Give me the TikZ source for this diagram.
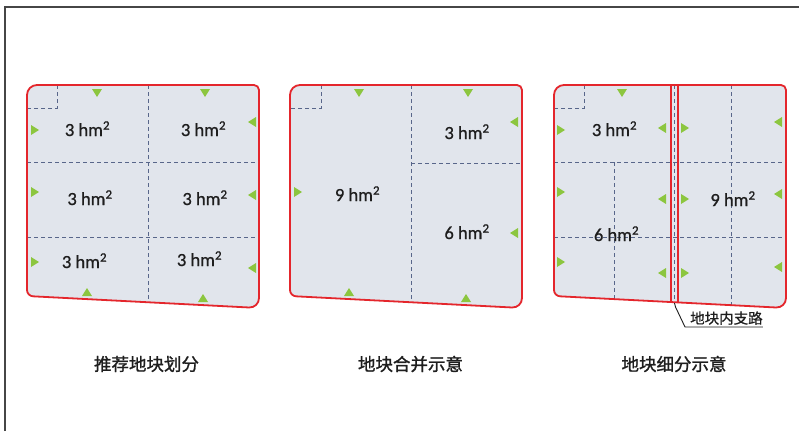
\documentclass[tikz,border=0pt]{standalone}
\usepackage{fontspec}
\newfontfamily\cjk[FakeBold=1.2]{Noto Sans CJK SC}
\newfontfamily\cjklight[FakeBold=0.6]{Noto Sans CJK SC}
\newfontfamily\numfont[FakeBold=0.8]{Carlito}
\definecolor{plotfill}{RGB}{225,229,236}
\definecolor{plotred}{RGB}{228,38,44}
\definecolor{dashblue}{RGB}{88,102,138}
\definecolor{trigreen}{RGB}{140,198,63}
\definecolor{framegray}{RGB}{70,70,70}
\definecolor{textdark}{RGB}{30,30,30}
\tikzset{
 border/.style={draw=plotred,line width=1.8pt},
 roadline/.style={draw=plotred,line width=1.6pt},
 gridline/.style={draw=dashblue,line width=1pt,dash pattern=on 4pt off 3pt},
 tri/.style={fill=trigreen},
 area/.style={font=\numfont\fontsize{18.5}{20}\selectfont,text=textdark,inner sep=0pt,anchor=base},
 titletext/.style={font=\cjk\fontsize{17.5}{20}\selectfont,text=textdark,inner sep=0pt},
 callouttext/.style={font=\cjklight\fontsize{14.5}{16}\selectfont,text=textdark,inner sep=0pt},
 calloutline/.style={draw=textdark,line width=0.9pt},
}
\newcommand\plotoutline{(0,200) [rounded corners=10pt] -- (0,85) [rounded corners=5pt] -- (232,85) [rounded corners=10pt] -- (232,308) [rounded corners=6pt] -- (0,296) -- cycle}
\newcommand\tdn[2]{\fill[tri] ({#1-5},{#2-4}) -- ({#1+5},{#2-4}) -- (#1,{#2+4}) -- cycle;}
\newcommand\tup[2]{\fill[tri] ({#1-5},{#2+4}) -- ({#1+5},{#2+4}) -- (#1,{#2-4}) -- cycle;}
\newcommand\trt[2]{\fill[tri] ({#1-4},{#2-5}) -- ({#1-4},{#2+5}) -- ({#1+4},#2) -- cycle;}
\newcommand\tlt[2]{\fill[tri] ({#1+4},{#2-5}) -- ({#1+4},{#2+5}) -- ({#1-4},#2) -- cycle;}
\begin{document}
\begin{tikzpicture}[x=1pt,y=-1pt]
\useasboundingbox (0,0) rectangle (799,431);
\fill[white] (0,0) rectangle (799,431);
\draw[framegray,line width=1.3pt] (5,431) -- (5,7) -- (799,7);

% ---------- Panel 1 ----------
\begin{scope}[shift={(27,0)}]
\fill[plotfill] \plotoutline;
\begin{scope}
\clip \plotoutline;
\draw[gridline] (121,85) -- (121,320);
\draw[gridline] (0,162) -- (240,162);
\draw[gridline] (0,237) -- (240,237);
\draw[gridline] (30,85) -- (30,108) -- (0,108);
\end{scope}
\tdn{70}{93}\tdn{178}{93}
\trt{8}{130}\trt{8}{192}\trt{8}{262}
\tlt{225}{122}\tlt{225}{195}\tlt{225}{268}
\tup{60}{292}\tup{176}{298}
\draw[border] \plotoutline;
\node[area] (a1) at (60.5,136) {3 hm\textsuperscript{2}};
\node[area] (a2) at (176.5,136) {3 hm\textsuperscript{2}};
\node[area] (a3) at (63,205) {3 hm\textsuperscript{2}};
\node[area] (a4) at (178,205) {3 hm\textsuperscript{2}};
\node[area] (a5) at (57.5,268) {3 hm\textsuperscript{2}};
\node[area] (a6) at (172.5,266) {3 hm\textsuperscript{2}};
\end{scope}

% ---------- Panel 2 ----------
\begin{scope}[shift={(290,0)}]
\fill[plotfill] \plotoutline;
\begin{scope}
\clip \plotoutline;
\draw[gridline] (121,85) -- (121,320);
\draw[gridline] (121,163) -- (240,163);
\draw[gridline] (31,85) -- (31,108) -- (0,108);
\end{scope}
\tdn{69}{93}\tdn{178}{93}
\trt{8}{192}
\tlt{224}{122}\tlt{224}{233}
\tup{59}{292}\tup{176}{298}
\draw[border] \plotoutline;
\node[area] (b1) at (67.5,201) {9 hm\textsuperscript{2}};
\node[area] (b2) at (177,139) {3 hm\textsuperscript{2}};
\node[area] (b3) at (177,239) {6 hm\textsuperscript{2}};
\end{scope}

% ---------- Panel 3 ----------
\begin{scope}[shift={(554,0)}]
\fill[plotfill] \plotoutline;
\begin{scope}
\clip \plotoutline;
\draw[gridline] (0,162) -- (240,162);
\draw[gridline] (0,237) -- (240,237);
\draw[gridline] (60,162) -- (60,320);
\draw[gridline] (177,85) -- (177,320);
\draw[gridline] (120.5,85) -- (120.5,320);
\draw[gridline] (30,85) -- (30,108) -- (0,108);
\end{scope}
\tdn{68}{93}
\trt{7}{130}\trt{7}{192}\trt{7}{262}
\tlt{108}{128}\tlt{108}{199}\tlt{108}{273}
\trt{131}{128}\trt{131}{199}\trt{131}{273}
\tlt{224}{122}\tlt{224}{194}\tlt{224}{267}
\draw[roadline] (117,85) -- (117,302);
\draw[roadline] (124,85) -- (124,302.5);
\draw[border] \plotoutline;
\node[area] (c1) at (60.5,136) {3 hm\textsuperscript{2}};
\node[area] (c2) at (62.5,241) {6 hm\textsuperscript{2}};
\node[area] (c3) at (179,206) {9 hm\textsuperscript{2}};
\coordinate (roadtop) at (120.5,303);
\end{scope}

% ---------- Callout ----------
\node[callouttext,anchor=south west] (roadlbl) at (690,325) {地块内支路};
\draw[calloutline] (roadtop) -- (675.5,307) -- ([xshift=-5pt,yshift=-2pt]roadlbl.south west) -- ([yshift=-2pt]roadlbl.south east);

% ---------- Titles ----------
\node[titletext] (t1) at (146.5,364) {推荐地块划分};
\node[titletext] (t2) at (410.5,364) {地块合并示意};
\node[titletext] (t3) at (674,364) {地块细分示意};
\end{tikzpicture}
\end{document}
